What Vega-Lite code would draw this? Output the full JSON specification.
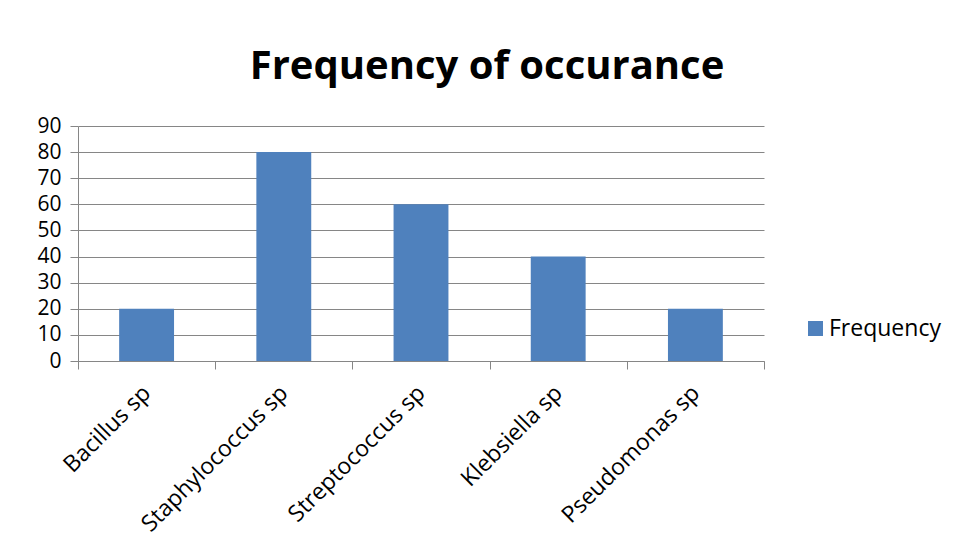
{
  "$schema": "https://vega.github.io/schema/vega-lite/v6.json",
  "autosize": "none",
  "width": 686,
  "height": 235,
  "padding": {"left": 78, "top": 126, "right": 191, "bottom": 190},
  "background": "white",
  "data": {"values": [
    {"organism": "Bacillus sp", "value": 20},
    {"organism": "Staphylococcus sp", "value": 80},
    {"organism": "Streptococcus sp", "value": 60},
    {"organism": "Klebsiella sp", "value": 40},
    {"organism": "Pseudomonas sp", "value": 20}
  ]},
  "title": {
    "text": "Frequency of occurance",
    "font": "Open Sans",
    "fontSize": 40,
    "fontWeight": "bold",
    "color": "black",
    "anchor": "middle",
    "dx": 66,
    "offset": 28
  },
  "mark": {"type": "bar", "color": "#4F81BD", "width": {"band": 0.4}},
  "encoding": {
    "x": {
      "field": "organism",
      "type": "nominal",
      "sort": null,
      "scale": {"paddingInner": 0, "paddingOuter": 0},
      "axis": {
        "title": null,
        "labelAngle": -45,
        "labelAlign": "right",
        "labelBaseline": "middle",
        "labelFont": "Open Sans",
        "labelFontSize": 23,
        "labelColor": "black",
        "labelPadding": 20,
        "labelLimit": 0,
        "labelOverlap": false,
        "tickBand": "extent",
        "tickSize": 8,
        "tickColor": "#868686",
        "domainColor": "#868686",
        "grid": false
      }
    },
    "y": {
      "field": "value",
      "type": "quantitative",
      "scale": {"domain": [0, 90], "nice": false},
      "axis": {
        "title": null,
        "values": [0, 10, 20, 30, 40, 50, 60, 70, 80, 90],
        "labelFont": "Open Sans",
        "labelFontSize": 21,
        "labelColor": "black",
        "labelPadding": 9,
        "labelOverlap": false,
        "tickSize": 8,
        "tickColor": "#868686",
        "domainColor": "#868686",
        "gridColor": "#868686",
        "gridOpacity": 1
      }
    },
    "color": {
      "datum": "Frequency",
      "scale": {"range": ["#4F81BD"]},
      "legend": {
        "title": null,
        "orient": "none",
        "legendX": 726,
        "legendY": 191,
        "symbolType": "square",
        "symbolSize": 225,
        "symbolStrokeWidth": 0,
        "symbolOpacity": 1,
        "labelFont": "Open Sans",
        "labelFontSize": 23,
        "labelColor": "black",
        "labelOffset": 2
      }
    }
  },
  "config": {"view": {"stroke": null}}
}
